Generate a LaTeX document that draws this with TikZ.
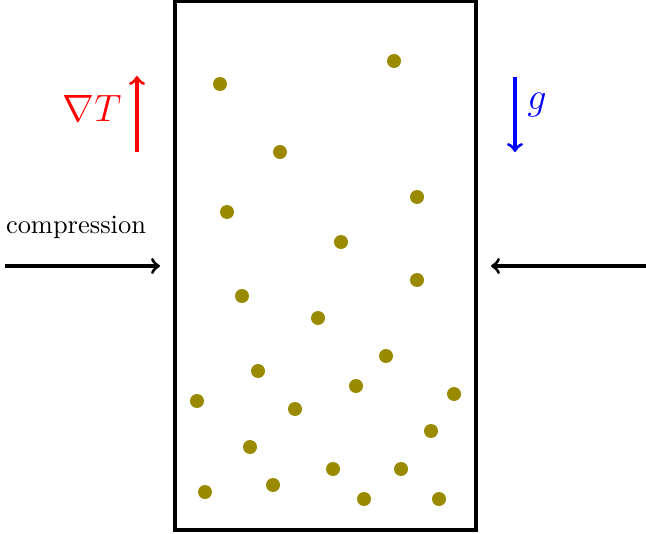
\documentclass[tikz,border=0pt]{standalone}
\usepackage{amsmath}
\definecolor{dotcol}{RGB}{153,138,0}
\begin{document}
\begin{tikzpicture}[x=0.378pt,y=-0.378pt,
  particle/.style={fill=dotcol,draw=none},
  arr/.style={->,line width=1.2pt},
  lbl/.style={inner sep=0pt}]
\useasboundingbox (0,0) rectangle (646,534);
\node[draw,line width=1.3pt,minimum width=301*0.378pt,minimum height=529*0.378pt,inner sep=0pt] (box) at (325.5,265.5) {};
\foreach \px/\py [count=\i] in {220/84,394/61,280/152,417/197,227/212,341/242,417/280,242/296,318/318,386/356,258/371,356/386,454/394,197/401,295/409,431/431,250/447,333/469,401/469,205/492,273/485,364/499,439/499}
  \fill[particle] (\px,\py) circle (7);
\coordinate (lstart) at (5,266);
\coordinate (lend) at (160,266);
\coordinate (rstart) at (646,266);
\coordinate (rend) at (491,266);
\draw[arr] (lstart) -- (lend);
\draw[arr] (rstart) -- (rend);
\node[lbl] (comp) at (76,227) {compression};
\coordinate (tb) at (137,152);
\coordinate (tt) at (137,76);
\draw[arr,red] (tb) -- (tt);
\node[lbl,red] (gradT) at (92,108) {\Large$\nabla T$};
\coordinate (gt) at (515,77);
\coordinate (gb) at (515,152);
\draw[arr,blue] (gt) -- (gb);
\node[lbl,blue] (g) at (537,105) {\Large$g$};
\end{tikzpicture}
\end{document}
